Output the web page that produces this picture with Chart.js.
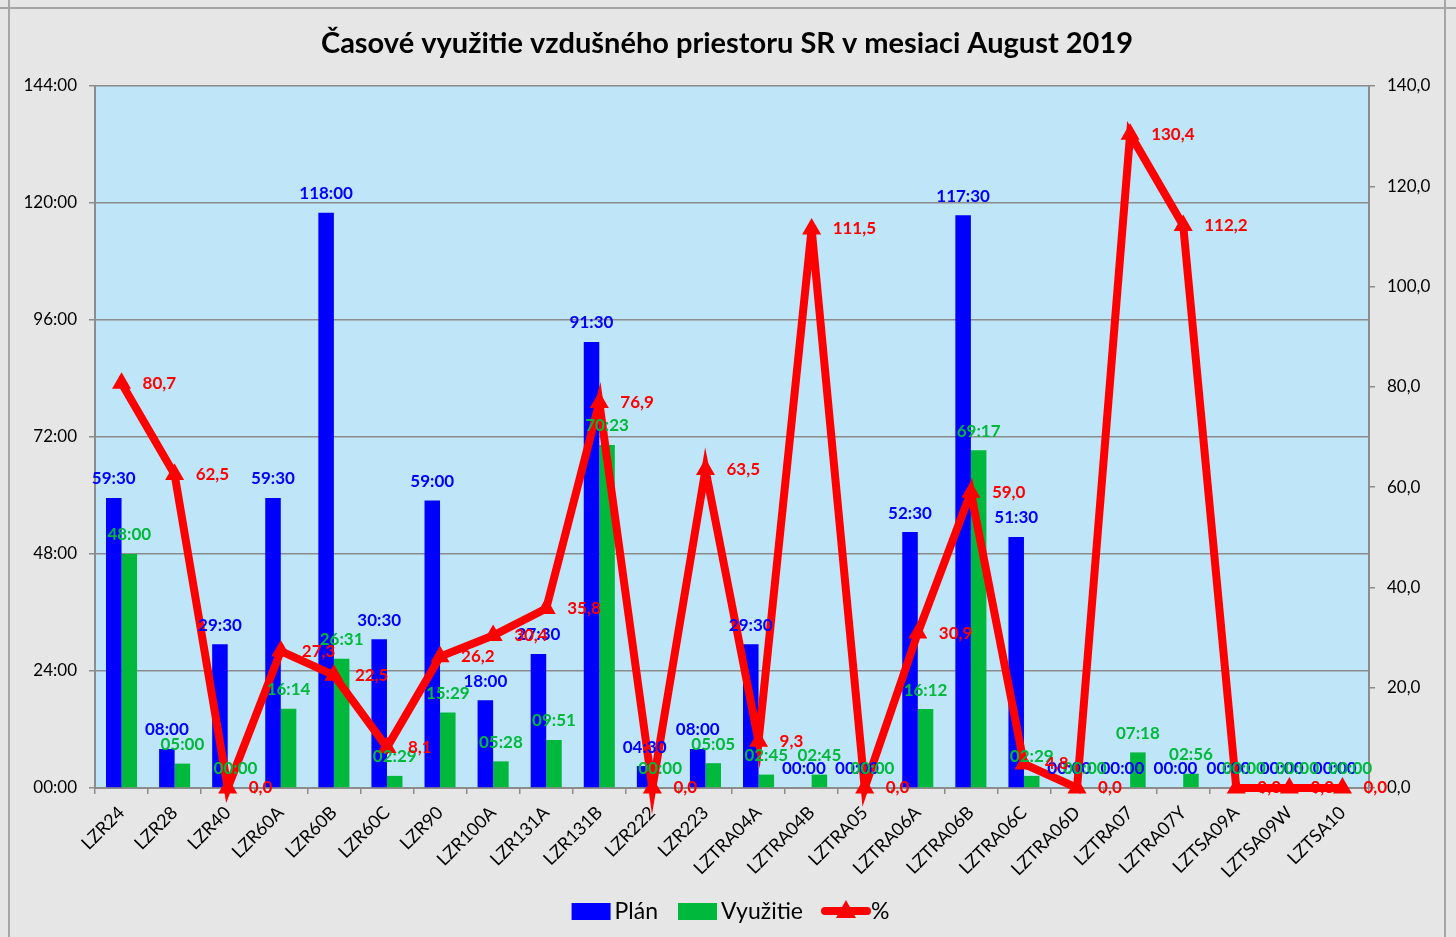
<!DOCTYPE html>
<html>
<head>
<meta charset="utf-8">
<script src="https://cdn.jsdelivr.net/npm/chart.js@4.4.1/dist/chart.umd.min.js"></script>
<style>
  html, body { margin: 0; padding: 0; background: #e6e6e6; }
  canvas { display: block; }
</style>
</head>
<body>
<canvas id="chart" width="1456" height="937"></canvas>
<script>
const title = "Časové využitie vzdušného priestoru SR v mesiaci August 2019";
const categories = ["LZR24", "LZR28", "LZR40", "LZR60A", "LZR60B", "LZR60C", "LZR90", "LZR100A", "LZR131A", "LZR131B", "LZR222", "LZR223", "LZTRA04A", "LZTRA04B", "LZTRA05", "LZTRA06A", "LZTRA06B", "LZTRA06C", "LZTRA06D", "LZTRA07", "LZTRA07Y", "LZTSA09A", "LZTSA09W", "LZTSA10"];
const planTimes = ["59:30", "08:00", "29:30", "59:30", "118:00", "30:30", "59:00", "18:00", "27:30", "91:30", "04:30", "08:00", "29:30", "00:00", "00:00", "52:30", "117:30", "51:30", "00:00", "00:00", "00:00", "00:00", "00:00", "00:00"];
const usedTimes = ["48:00", "05:00", "00:00", "16:14", "26:31", "02:29", "15:29", "05:28", "09:51", "70:23", "00:00", "05:05", "02:45", "02:45", "00:00", "16:12", "69:17", "02:29", "00:00", "07:18", "02:56", "00:00", "00:00", "00:00"];
const percentValues = [80.7, 62.5, 0.0, 27.3, 22.5, 8.1, 26.2, 30.4, 35.8, 76.9, 0.0, 63.5, 9.3, 111.5, 0.0, 30.9, 59.0, 4.8, 0.0, 130.4, 112.2, 0.0, 0.0, 0.0];
const legendNames = ["Plán", "Využitie", "%"];

const FONT = "Lato";
const BLUE = "#0000ff";
const GREEN = "#00b83c";
const RED = "#ff0000";
const GRID = "#8c8c8c";

const toHours = (t) => { const [h, m] = t.split(":").map(Number); return h + m / 60; };
const pctText = (v) => v.toFixed(1).replace(".", ",");

const decor = {
  id: "decor",
  beforeDraw(chart) {
    const { ctx, chartArea: a, width, height } = chart;
    ctx.save();
    ctx.fillStyle = "#e6e6e6";
    ctx.fillRect(0, 0, width, height);
    ctx.strokeStyle = "#a6a6a6";
    ctx.lineWidth = 2;
    ctx.beginPath();
    ctx.moveTo(0, 8); ctx.lineTo(width, 8);
    ctx.moveTo(9, 0); ctx.lineTo(9, height);
    ctx.moveTo(1445, 0); ctx.lineTo(1445, height);
    ctx.stroke();
    ctx.fillStyle = "#bee5f8";
    ctx.fillRect(a.left, a.top, a.right - a.left, a.bottom - a.top);
    ctx.fillStyle = "#000";
    ctx.font = `bold 29px ${FONT}`;
    ctx.textAlign = "center";
    ctx.textBaseline = "middle";
    ctx.fillText(title, 727, 44);
    ctx.restore();
  },
  afterDatasetsDraw(chart) {
    const ctx = chart.ctx;
    ctx.save();
    ctx.font = `bold 17px ${FONT}`;
    ctx.textBaseline = "middle";
    ctx.textAlign = "center";
    [[0, planTimes, BLUE], [1, usedTimes, GREEN]].forEach(([i, texts, color]) => {
      ctx.fillStyle = color;
      chart.getDatasetMeta(i).data.forEach((bar, j) => ctx.fillText(texts[j], bar.x, bar.y - 19));
    });
    ctx.textAlign = "left";
    ctx.fillStyle = RED;
    chart.getDatasetMeta(2).data.forEach((pt, j) => ctx.fillText(pctText(percentValues[j]), pt.x + 21, pt.y));
    ctx.restore();
  },
  afterDraw(chart) {
    // legend, drawn by hand to match the boxed swatches
    const ctx = chart.ctx;
    const y = 911;
    ctx.save();
    ctx.font = `23px ${FONT}`;
    ctx.textBaseline = "middle";
    ctx.textAlign = "left";
    const widths = legendNames.map((n) => ctx.measureText(n).width);
    const sw = 39, gap = 4, spacing = 20;
    const total = widths.reduce((s, w) => s + sw + gap + w, 0) + spacing * 2 + 6;
    let x = 731 - total / 2;
    [BLUE, GREEN].forEach((c, i) => {
      ctx.fillStyle = c;
      ctx.fillRect(x, y - 8, sw, 17);
      ctx.fillStyle = "#000";
      ctx.fillText(legendNames[i], x + sw + gap, y + 1);
      x += sw + gap + widths[i] + spacing;
    });
    ctx.strokeStyle = RED;
    ctx.lineWidth = 8;
    ctx.lineCap = "round";
    ctx.beginPath(); ctx.moveTo(x + 2, y); ctx.lineTo(x + 44, y); ctx.stroke();
    ctx.fillStyle = RED;
    ctx.beginPath(); ctx.moveTo(x + 23, y - 11); ctx.lineTo(x + 33, y + 7); ctx.lineTo(x + 13, y + 7); ctx.closePath(); ctx.fill();
    ctx.fillStyle = "#000";
    ctx.fillText(legendNames[2], x + 48, y + 1);
    ctx.restore();
  }
};

function build() {
  new Chart(document.querySelector("#chart"), {
    type: "bar",
    data: {
      labels: categories,
      datasets: [
        { label: legendNames[0], data: planTimes.map(toHours), backgroundColor: BLUE, yAxisID: "y", order: 1, categoryPercentage: 0.585, barPercentage: 1 },
        { label: legendNames[1], data: usedTimes.map(toHours), backgroundColor: GREEN, yAxisID: "y", order: 1, categoryPercentage: 0.585, barPercentage: 1 },
        { type: "line", label: legendNames[2], data: percentValues, yAxisID: "y1", order: 0, clip: false, borderColor: RED, backgroundColor: RED, borderWidth: 8, pointStyle: "triangle", pointRadius: 11, pointBorderWidth: 0, pointBackgroundColor: RED, tension: 0, borderJoinStyle: "miter" }
      ]
    },
    options: {
      responsive: false,
      animation: false,
      events: [],
      layout: { padding: { top: 86, left: 0, right: 0, bottom: 0 } },
      plugins: { legend: { display: false }, tooltip: { enabled: false }, title: { display: false } },
      scales: {
        x: {
          grid: { offset: true, drawOnChartArea: false, tickLength: 6, color: GRID, lineWidth: 1.5 },
          border: { color: GRID, width: 2 },
          ticks: { minRotation: 45, maxRotation: 45, color: "#000", font: { family: FONT, size: 18 }, padding: 8 },
          afterFit: (s) => { s.height = 149; }
        },
        y: {
          position: "left", min: 0, max: 144,
          ticks: { stepSize: 24, color: "#000", font: { family: FONT, size: 17 }, padding: 12, callback: (v) => String(v).padStart(2, "0") + ":00" },
          grid: { color: GRID, lineWidth: 1.5, tickLength: 6 },
          border: { color: GRID, width: 2 },
          afterFit: (s) => { s.width = 95; }
        },
        y1: {
          position: "right", min: 0, max: 140,
          ticks: { stepSize: 20, color: "#000", font: { family: FONT, size: 17 }, padding: 12, callback: (v) => pctText(v) },
          grid: { drawOnChartArea: false, color: GRID, lineWidth: 1.5, tickLength: 6 },
          border: { color: GRID, width: 2 },
          afterFit: (s) => { s.width = 87; }
        }
      }
    },
    plugins: [decor]
  });
}

Promise.all([document.fonts.load(`17px ${FONT}`), document.fonts.load(`bold 17px ${FONT}`)]).then(build, build);
</script>
</body>
</html>
